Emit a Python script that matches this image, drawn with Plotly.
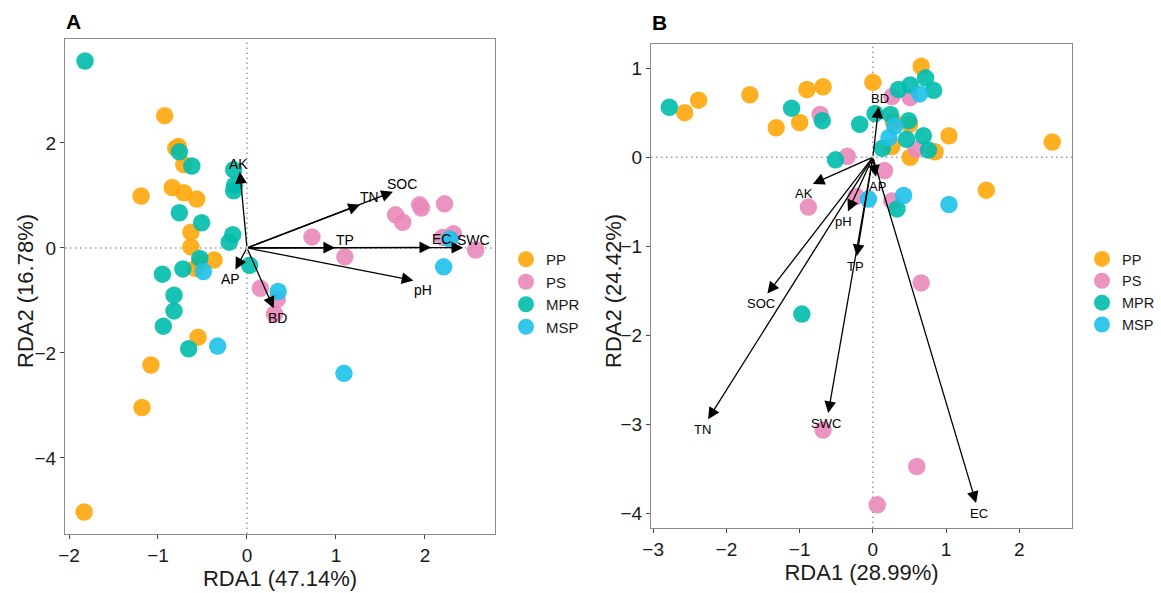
import numpy as np
import plotly.graph_objects as go

# ---------------- data: panel A ----------------
groups = ["PP", "PS", "MPR", "MSP"]
colors = {"PP": "#FFA60A", "PS": "#EA88BA", "MPR": "#00BCAC", "MSP": "#1EC1EA"}

a_pp_x = [-0.925, -0.77, -0.80, -0.71, -1.19, -0.84, -0.71, -0.565, -0.63, -0.63, -0.37, -0.53, -0.58, -0.55, -1.08, -1.18, -1.83]
a_pp_y = [2.52, 1.93, 1.90, 1.59, 0.99, 1.15, 1.05, 0.93, 0.30, 0.02, -0.23, -0.27, -0.39, -1.70, -2.23, -3.04, -5.03]
a_ps_x = [0.73, 1.10, 0.15, 0.34, 0.31, 1.67, 1.75, 1.94, 1.96, 2.22, 2.20, 2.32, 2.57]
a_ps_y = [0.21, -0.17, -0.77, -0.98, -1.26, 0.63, 0.49, 0.82, 0.76, 0.84, 0.20, 0.27, -0.04]
a_mpr_x = [-1.82, -0.76, -0.62, -0.15, -0.14, -0.15, -0.76, -0.51, -0.16, -0.20, -0.53, -0.72, -0.95, 0.03, -0.82, -0.82, -0.94, -0.655]
a_mpr_y = [3.56, 1.83, 1.56, 1.49, 1.19, 1.09, 0.67, 0.48, 0.25, 0.11, -0.20, -0.40, -0.50, -0.33, -0.90, -1.20, -1.49, -1.92]
a_msp_x = [-0.49, 0.35, 2.28, 2.21, -0.33, 1.09]
a_msp_y = [-0.45, -0.83, 0.17, -0.36, -1.87, -2.39]

a_vars = ["AK", "TN", "SOC", "TP", "EC", "SWC", "pH", "AP", "BD"]
a_vx = [-0.08, 1.27, 1.64, 0.99, 2.07, 2.43, 1.87, -0.13, 0.30]
a_vy = [1.45, 0.82, 1.07, 0.005, 0.01, 0.005, -0.62, -0.41, -1.15]

# ---------------- data: panel B ----------------
b_pp_x = [-2.57, -2.38, -1.68, -0.90, -0.68, -1.32, -1.00, 0.00, 0.66, 0.28, 0.50, 1.04, 0.26, 0.85, 0.51, 2.45, 1.55]
b_pp_y = [0.50, 0.64, 0.70, 0.76, 0.79, 0.33, 0.39, 0.84, 1.02, 0.40, 0.37, 0.24, 0.12, 0.06, 0.00, 0.17, -0.37]
b_ps_x = [-0.72, 0.51, 0.26, 0.59, -0.35, 0.16, -0.88, -0.23, 0.26, 0.66, -0.68, 0.60, 0.06]
b_ps_y = [0.48, 0.67, 0.68, 0.09, 0.01, -0.15, -0.56, -0.44, -0.49, -1.41, -3.06, -3.47, -3.90]
b_mpr_x = [-2.78, -1.11, -0.69, -0.18, 0.03, 0.72, 0.35, 0.51, 0.83, 0.24, 0.49, 0.46, 0.69, 0.13, 0.76, -0.51, 0.33, -0.97]
b_mpr_y = [0.56, 0.55, 0.41, 0.37, 0.49, 0.89, 0.76, 0.81, 0.75, 0.48, 0.41, 0.20, 0.24, 0.10, 0.08, -0.03, -0.58, -1.76]
b_msp_x = [0.64, 0.30, 0.22, 0.42, 1.04, -0.06]
b_msp_y = [0.71, 0.35, 0.22, -0.43, -0.53, -0.47]

b_vars = ["BD", "AK", "AP", "pH", "TP", "SOC", "TN", "SWC", "EC"]
b_vx = [0.08, -0.82, 0.04, -0.34, -0.22, -1.44, -2.25, -0.61, 1.41]
b_vy = [0.57, -0.30, -0.22, -0.61, -1.11, -1.53, -2.94, -2.87, -3.88]

a_xtitle, a_ytitle = "RDA1 (47.14%)", "RDA2 (16.78%)"
b_xtitle, b_ytitle = "RDA1 (28.99%)", "RDA2 (24.42%)"

# ---------------- figure ----------------
W, H = 1161, 593
FONT = "Liberation Sans, Arial, sans-serif"
TXT = "#1a1a1a"
fig = go.Figure()

a_data = {"PP": (a_pp_x, a_pp_y), "PS": (a_ps_x, a_ps_y), "MPR": (a_mpr_x, a_mpr_y), "MSP": (a_msp_x, a_msp_y)}
b_data = {"PP": (b_pp_x, b_pp_y), "PS": (b_ps_x, b_ps_y), "MPR": (b_mpr_x, b_mpr_y), "MSP": (b_msp_x, b_msp_y)}

for g in groups:
    x, y = a_data[g]
    fig.add_trace(go.Scatter(x=x, y=y, mode="markers", name=g, xaxis="x", yaxis="y",
                             marker=dict(size=17.5, color=colors[g], opacity=0.9, line=dict(width=0)),
                             legend="legend"))
for g in groups:
    x, y = b_data[g]
    fig.add_trace(go.Scatter(x=x, y=y, mode="markers", name=g, xaxis="x2", yaxis="y2",
                             marker=dict(size=17.5, color=colors[g], opacity=0.9, line=dict(width=0)),
                             legend="legend2"))

a_xr, a_yr = [-2.045, 2.787], [-5.45, 3.98]
b_xr, b_yr = [-3.03, 2.72], [-4.16, 1.27]
a_dom_x, a_dom_y = [65 / W, 495 / W], [1 - 534 / H, 1 - 39 / H]
b_dom_x, b_dom_y = [651 / W, 1072 / W], [1 - 528 / H, 1 - 44 / H]

annotations = []
shapes = []


def add_arrows(names, vx, vy, xref, yref, xr, yr, dx, dy, fsize):
    pxx = (dx[1] - dx[0]) * W / (xr[1] - xr[0])
    pxy = (dy[1] - dy[0]) * H / (yr[1] - yr[0])
    for n, x, y in zip(names, vx, vy):
        annotations.append(dict(x=x, y=y, ax=0, ay=0, xref=xref, yref=yref, axref=xref, ayref=yref,
                                showarrow=True, arrowhead=2, arrowsize=1.8, arrowwidth=1.3,
                                arrowcolor="black", standoff=0, text=""))
        px, py = x * pxx, y * pxy
        L = np.hypot(px, py)
        ux = px / L
        annotations.append(dict(x=x, y=y, xref=xref, yref=yref, text=n, showarrow=False,
                                xshift=10 * ux, yshift=8 if y >= 0 else -10,
                                font=dict(family=FONT, size=fsize, color="black")))


add_arrows(a_vars, a_vx, a_vy, "x", "y", a_xr, a_yr, a_dom_x, a_dom_y, 14)
add_arrows(b_vars, b_vx, b_vy, "x2", "y2", b_xr, b_yr, b_dom_x, b_dom_y, 13)

for xa, ya in [("x", "y"), ("x2", "y2")]:
    shapes.append(dict(type="line", xref=xa, yref=ya + " domain", x0=0, x1=0, y0=0, y1=1,
                       line=dict(color="#999999", width=1.5, dash="1.5px,3.5px"), layer="below"))
    shapes.append(dict(type="line", xref=xa + " domain", yref=ya, x0=0, x1=1, y0=0, y1=0,
                       line=dict(color="#999999", width=1.5, dash="1.5px,3.5px"), layer="below"))

# panel tags
annotations.append(dict(x=73 / W, y=1 - 21 / H, xref="paper", yref="paper", text="<b>A</b>",
                        xanchor="center", yanchor="middle",
                        showarrow=False, font=dict(family=FONT, size=21, color="black")))
annotations.append(dict(x=659 / W, y=1 - 22 / H, xref="paper", yref="paper", text="<b>B</b>",
                        xanchor="center", yanchor="middle",
                        showarrow=False, font=dict(family=FONT, size=21, color="black")))

tfont = dict(family=FONT, size=22, color=TXT)
# y-axis titles
annotations.append(dict(x=25 / W, y=1 - 291 / H, xref="paper", yref="paper", text=a_ytitle,
                        textangle=-90, xanchor="center", yanchor="middle", showarrow=False, font=tfont))
annotations.append(dict(x=613 / W, y=1 - 291 / H, xref="paper", yref="paper", text=b_ytitle,
                        textangle=-90, xanchor="center", yanchor="middle", showarrow=False, font=tfont))

axis_common = dict(showgrid=False, zeroline=False, showline=True, mirror=True, automargin=False,
                   linecolor="#8a8a8a", linewidth=1.2, ticks="outside", ticklen=4,
                   tickcolor="#444444", tickfont=dict(family=FONT, size=19, color=TXT))

fig.update_layout(
    width=W, height=H, margin=dict(l=0, r=0, t=0, b=0, autoexpand=False),
    paper_bgcolor="white", plot_bgcolor="white",
    font=dict(family=FONT),
    xaxis=dict(domain=a_dom_x, range=a_xr, dtick=1, tick0=0, anchor="y",
               title=dict(text=a_xtitle, font=tfont, standoff=0), **axis_common),
    yaxis=dict(domain=a_dom_y, range=a_yr, dtick=2, tick0=0, anchor="x", **axis_common),
    xaxis2=dict(domain=b_dom_x, range=b_xr, dtick=1, tick0=0, anchor="y2",
                title=dict(text=b_xtitle, font=tfont, standoff=0), **axis_common),
    yaxis2=dict(domain=b_dom_y, range=b_yr, dtick=1, tick0=0, anchor="x2", **axis_common),
    legend=dict(x=506 / W, y=1 - 243 / H, xanchor="left", yanchor="top",
                font=dict(family=FONT, size=15, color=TXT), bgcolor="rgba(0,0,0,0)",
                tracegroupgap=0, itemwidth=30),
    legend2=dict(x=1082 / W, y=1 - 243 / H, xanchor="left", yanchor="top",
                 font=dict(family=FONT, size=14.5, color=TXT), bgcolor="rgba(0,0,0,0)",
                 tracegroupgap=0, itemwidth=30),
    annotations=annotations, shapes=shapes, showlegend=True,
)

fig.write_html("out.html", config={"displayModeBar": False},
               post_script="document.body.style.margin='0px';document.body.style.overflow='hidden';")
